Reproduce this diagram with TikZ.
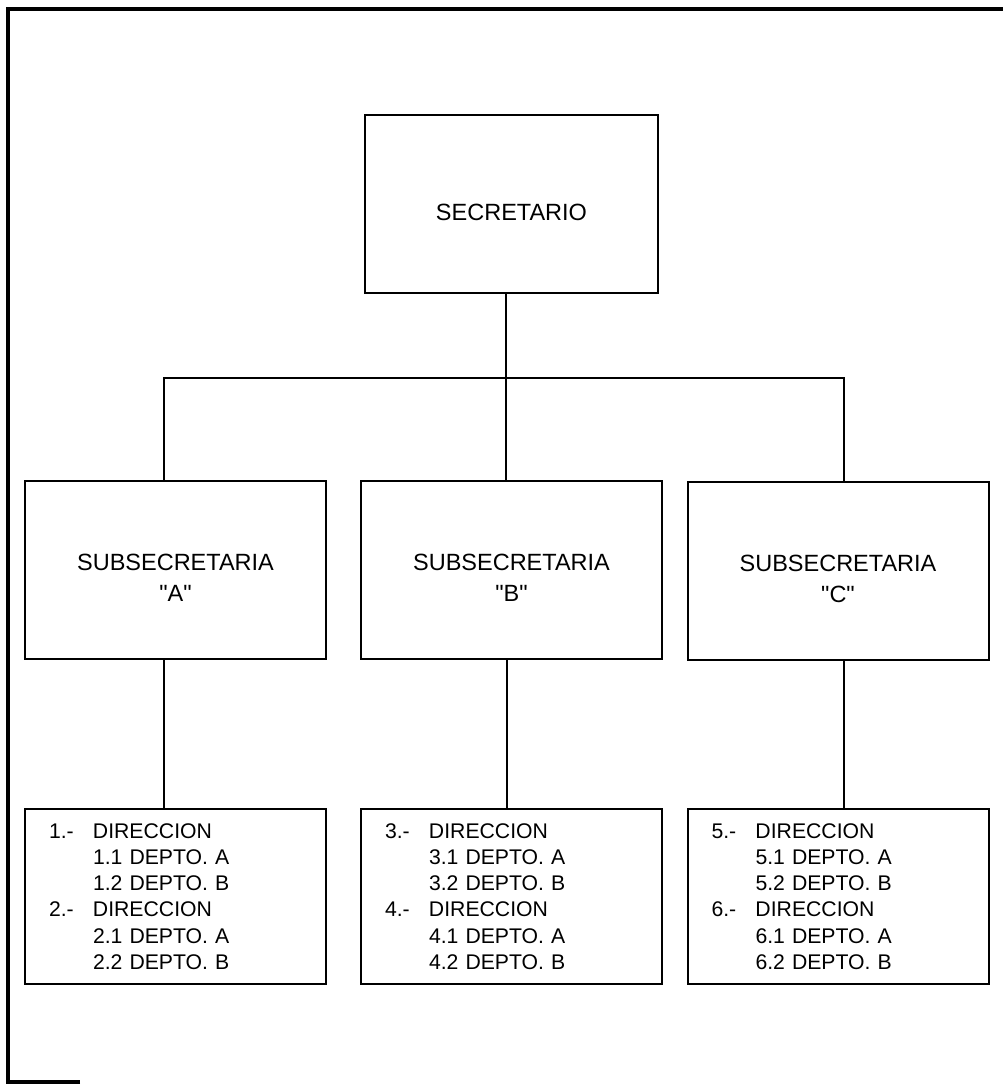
\documentclass[tikz,border=0pt]{standalone}
\usepackage{fontspec}
\setmainfont{Liberation Sans}[Ligatures=TeXOff]
\newcommand{\numdir}[1]{\makebox[44pt][l]{#1}}
\newcommand{\sangria}{\hspace*{44pt}}
\newcommand{\bajar}[2]{\raisebox{-#1}[\height][\depth]{#2}} % texto un poco abajo del centro
\newcommand{\subsec}[1]{\bajar{10pt}{\begin{tabular}{@{}c@{}}SUBSECRETARIA\\"#1"\end{tabular}}}
\tikzset{
    caja/.style={draw, rectangle, line width=2pt, minimum width=301pt, minimum height=178pt, align=center, font=\fontsize{23.5}{31}\selectfont},
    lista/.style={draw, rectangle, line width=2pt, text width=253pt, inner xsep=24pt, minimum height=175pt, align=left, font=\fontsize{21.2}{26.2}\selectfont},
    linea/.style={line width=2.6pt}
}
\begin{document}
\begin{tikzpicture}[x=1pt, y=-1pt]
    \useasboundingbox (0,0) rectangle (1003,1084); % Marco de la hoja
    \draw[line width=3.5pt] (80,1082) -- (8,1082) -- (8,9) -- (1003,9); % Borde escaneado
    \node[caja, minimum width=293pt] (sec) at (511.5,204) {\bajar{8pt}{SECRETARIO}}; % Cuadro superior
    \node[caja] (subA) at (175.5,569.5) {\subsec{A}};
    \node[caja] (subB) at (511.5,569.5) {\subsec{B}};
    \node[caja] (subC) at (838,570.5) {\subsec{C}};
    \node[lista] (dirA) at (175.5,896.5) {\numdir{1.-}DIRECCION\\\sangria 1.1 DEPTO. A\\\sangria 1.2 DEPTO. B\\\numdir{2.-}DIRECCION\\\sangria 2.1 DEPTO. A\\\sangria 2.2 DEPTO. B};
    \node[lista] (dirB) at (511.5,896.5) {\numdir{3.-}DIRECCION\\\sangria 3.1 DEPTO. A\\\sangria 3.2 DEPTO. B\\\numdir{4.-}DIRECCION\\\sangria 4.1 DEPTO. A\\\sangria 4.2 DEPTO. B};
    \node[lista] (dirC) at (838,896.5) {\numdir{5.-}DIRECCION\\\sangria 5.1 DEPTO. A\\\sangria 5.2 DEPTO. B\\\numdir{6.-}DIRECCION\\\sangria 6.1 DEPTO. A\\\sangria 6.2 DEPTO. B};
    \coordinate (bus) at (506,378); % Linea horizontal de reparto
    \draw[linea] ([xshift=-5.5pt]sec.south) -- ([xshift=-5.5pt]subB.north);
    \draw[linea] ([xshift=-11.5pt]subA.north) |- (bus) -| ([xshift=6pt]subC.north);
    \draw[linea] ([xshift=-11.5pt]subA.south) -- ([xshift=-11.5pt]dirA.north);
    \draw[linea] ([xshift=-4.5pt]subB.south) -- ([xshift=-4.5pt]dirB.north);
    \draw[linea] ([xshift=6pt]subC.south) -- ([xshift=6pt]dirC.north);
\end{tikzpicture}
\end{document}
